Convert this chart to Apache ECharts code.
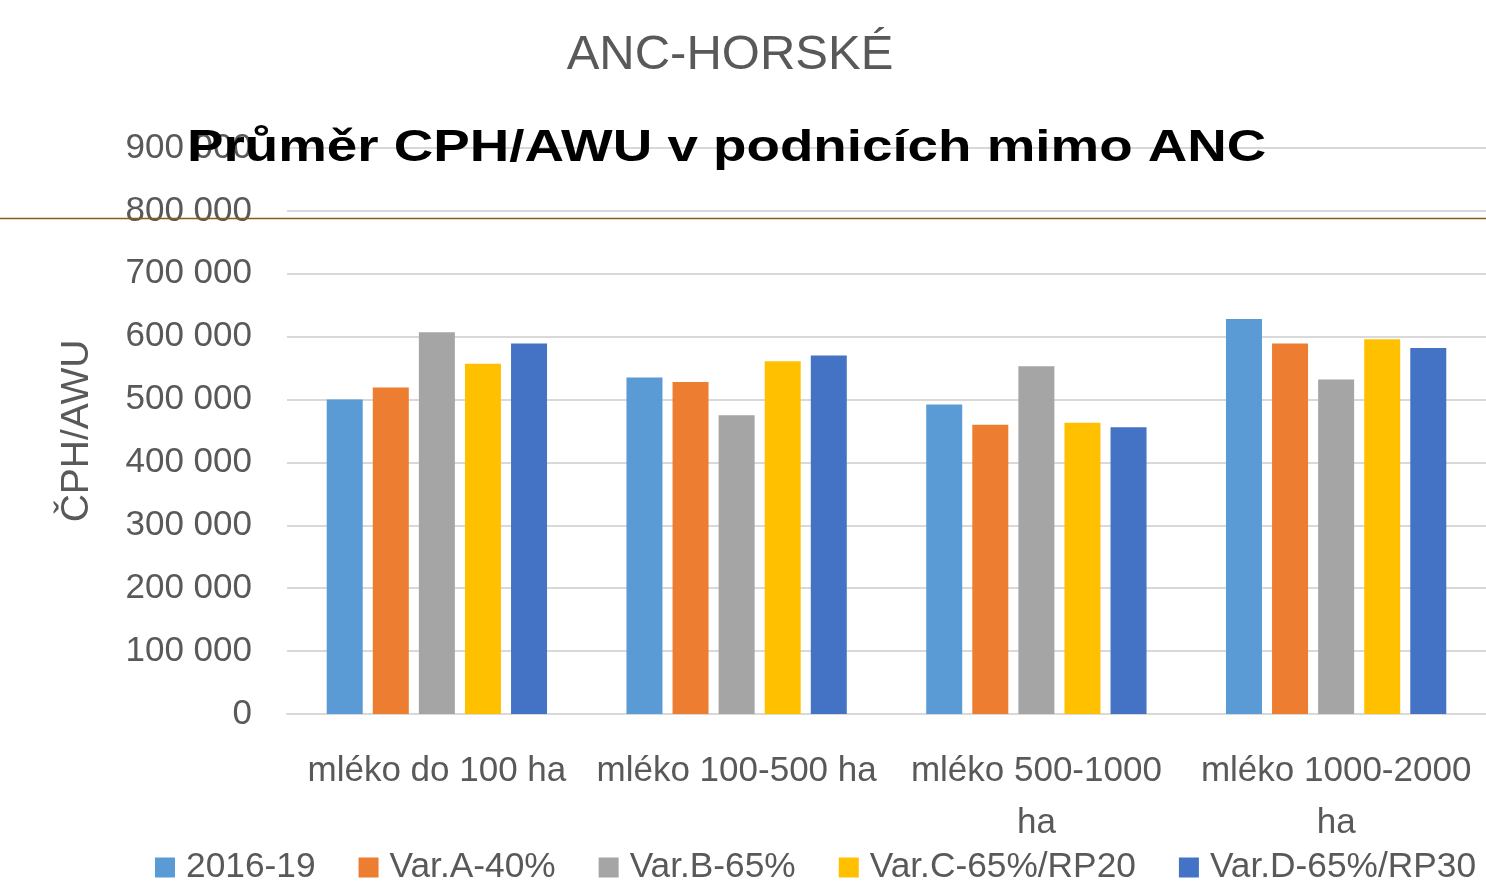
<!DOCTYPE html>
<html>
<head>
<meta charset="utf-8">
<script src="https://cdn.jsdelivr.net/npm/echarts@6/dist/echarts.min.js"></script>
<style>
html,body{margin:0;padding:0;background:#fff;}
#chart{width:1486px;height:886px;}
</style>
</head>
<body>
<div id="chart"></div>
<script>
const categories = ['mléko do 100 ha', 'mléko 100-500 ha', 'mléko 500-1000 ha', 'mléko 1000-2000 ha'];
const seriesNames = ['2016-19', 'Var.A-40%', 'Var.B-65%', 'Var.C-65%/RP20', 'Var.D-65%/RP30'];
const s2016_19 = [500000, 535000, 492000, 628000];
const varA40 = [519000, 528000, 460000, 589000];
const varB65 = [607000, 475000, 553000, 532000];
const varC65RP20 = [557000, 561000, 463000, 596000];
const varD65RP30 = [589000, 570000, 456000, 582000];
const yTicks = [0, 100000, 200000, 300000, 400000, 500000, 600000, 700000, 800000, 900000];
const chartTitle = 'ANC-HORSKÉ';
const overlayTitle = 'Průměr CPH/AWU v podnicích mimo ANC';
const yAxisName = 'ČPH/AWU';

const colors = ['#5B9BD5', '#ED7D31', '#A5A5A5', '#FFC000', '#4472C4'];
const valuesList = [s2016_19, varA40, varB65, varC65RP20, varD65RP30];
const FONT = '"Liberation Sans", Arial, sans-serif';
const GRAY = '#595959';

const chart = echarts.init(document.getElementById('chart'), null, {renderer: 'canvas'});

chart.setOption({
  animation: false,
  color: colors,
  grid: {left: 287, right: 0, top: 148, bottom: 172, containLabel: false},
  legend: {
    data: seriesNames,
    left: 150,
    top: 845,
    icon: 'rect',
    itemWidth: 20,
    itemHeight: 20,
    itemGap: 43,
    textStyle: {fontFamily: FONT, fontSize: 35.3, color: GRAY, padding: [0, 0, 0, 6]}
  },
  xAxis: {
    type: 'category',
    data: categories,
    axisLine: {show: true, lineStyle: {color: '#D9D9D9', width: 2}},
    axisTick: {show: false},
    axisLabel: {
      interval: 0,
      margin: 31,
      fontFamily: FONT,
      fontSize: 35,
      color: GRAY,
      lineHeight: 52,
      formatter: function (v) {
        if (v.length > 16) {
          const i = v.lastIndexOf(' ');
          return v.slice(0, i) + '\n' + v.slice(i + 1);
        }
        return v;
      }
    }
  },
  yAxis: {
    type: 'value',
    min: yTicks[0],
    max: yTicks[yTicks.length - 1],
    interval: yTicks[1] - yTicks[0],
    name: yAxisName,
    nameLocation: 'middle',
    nameRotate: 90,
    nameGap: 190,
    nameTextStyle: {fontFamily: FONT, fontSize: 39, color: GRAY},
    axisLine: {show: false},
    axisTick: {show: false},
    splitLine: {lineStyle: {color: '#D9D9D9', width: 2}},
    axisLabel: {
      margin: 35,
      fontFamily: FONT,
      fontSize: 35,
      color: GRAY,
      formatter: function (v) {
        return String(v).replace(/\B(?=(\d{3})+(?!\d))/g, ' ');
      }
    }
  },
  series: seriesNames.map(function (name, i) {
    return {
      name: name,
      type: 'bar',
      data: valuesList[i],
      barWidth: 36,
      barGap: '28%',
      itemStyle: {color: colors[i]}
    };
  }),
  graphic: [
    {
      type: 'text',
      x: 730,
      y: 55,
      style: {
        text: chartTitle,
        fontFamily: FONT,
        fontSize: 49,
        fill: GRAY,
        textAlign: 'center',
        textVerticalAlign: 'middle'
      },
      z: 100
    },
    {
      type: 'text',
      x: 187,
      y: 149,
      scaleX: 1.216,
      originX: 0,
      originY: 0,
      style: {
        text: overlayTitle,
        fontFamily: FONT,
        fontWeight: 'bold',
        fontSize: 45,
        fill: '#000000',
        textAlign: 'left',
        textVerticalAlign: 'middle'
      },
      z: 100
    },
    {
      type: 'line',
      shape: {x1: 0, y1: 218.5, x2: 1486, y2: 218.5},
      style: {stroke: '#8C5A1E', lineWidth: 1.5},
      z: 100
    }
  ]
});
</script>
</body>
</html>
